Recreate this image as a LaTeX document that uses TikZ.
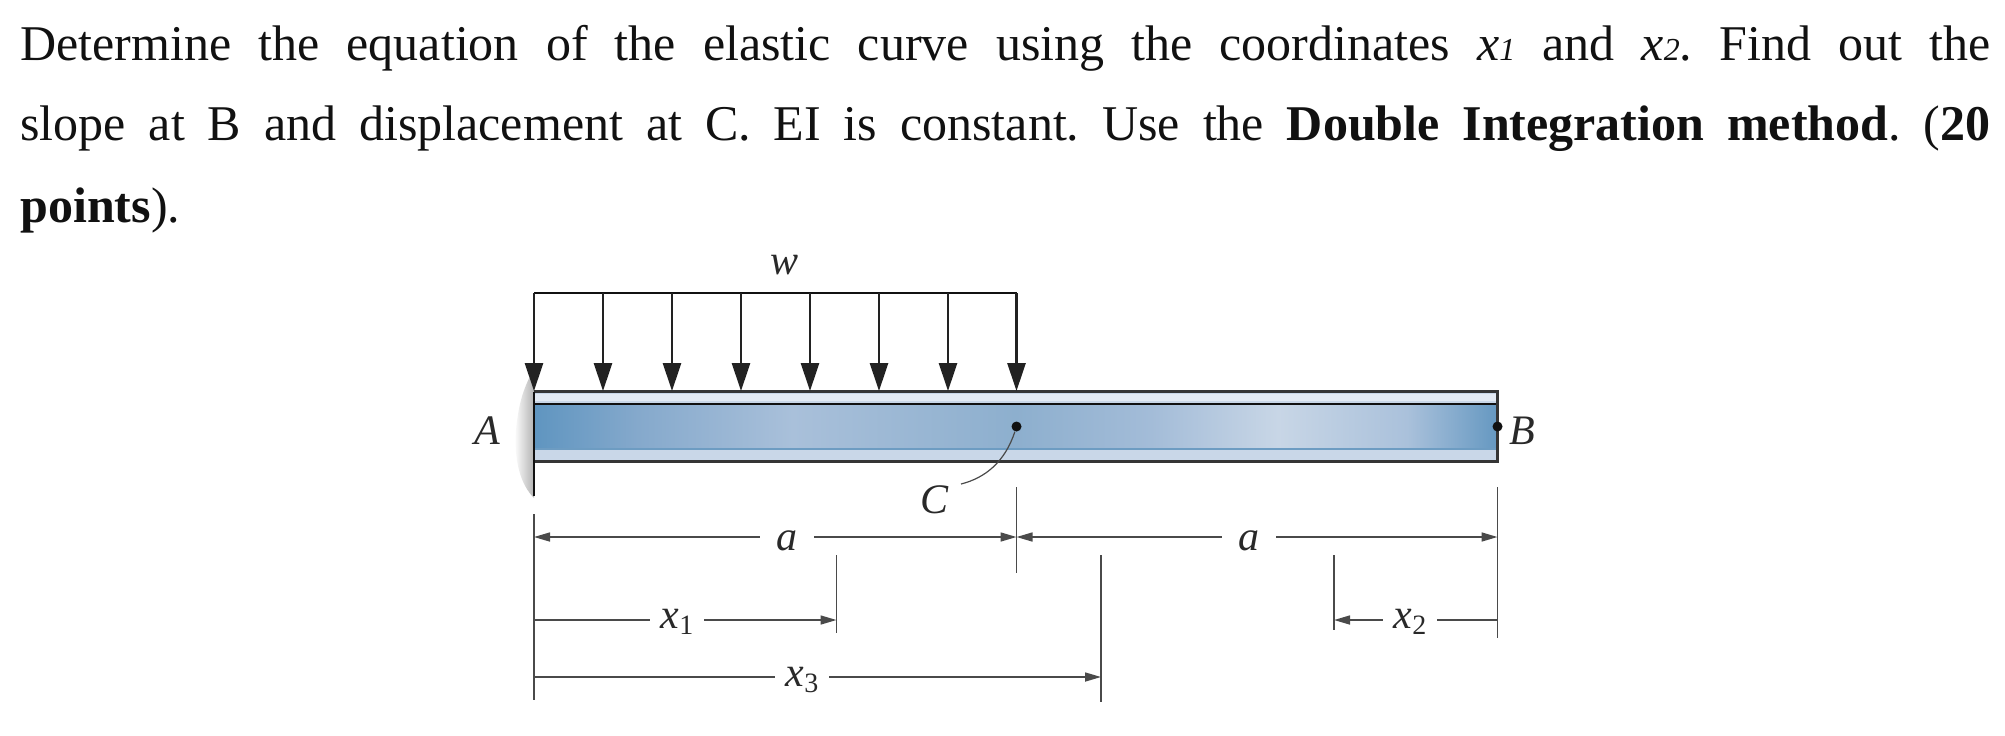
\documentclass[tikz,border=0pt]{standalone}
\usepackage{fontspec}
\setmainfont{Liberation Serif}
\usetikzlibrary{arrows.meta}
\definecolor{ink}{HTML}{111111}
\definecolor{loadink}{HTML}{222222}
\definecolor{dimgray}{HTML}{4A4A4A}
\definecolor{flange}{HTML}{C9D7E8}
\definecolor{flangehi}{HTML}{E3EAF3}
\definecolor{webline}{HTML}{6D9CC2}
\definecolor{wa}{HTML}{5F95C0}
\definecolor{wb}{HTML}{85A9CC}
\definecolor{wc}{HTML}{A9C0DA}
\definecolor{wd}{HTML}{8DAFCE}
\definecolor{we}{HTML}{A3BCD8}
\definecolor{wf}{HTML}{C8D6E6}
\definecolor{wg}{HTML}{AAC1DB}
\definecolor{wh}{HTML}{6598C1}
\pgfdeclarehorizontalshading{beamweb}{100bp}{
 color(0bp)=(wa);color(25bp)=(wa);color(30.4bp)=(wb);
 color(38.4bp)=(wc);color(50bp)=(wd);color(57bp)=(we);
 color(63.6bp)=(wf);color(70.3bp)=(wg);color(75bp)=(wh);color(100bp)=(wh)}
\frenchspacing
\newcommand{\headline}[1]{\hbox to 985pt{\fontsize{25}{30}\selectfont\spaceskip=0.25em plus 1fil minus 0.05em\relax #1}}
\newcommand{\subvar}[2]{\textit{#1}\raisebox{-0.28ex}{\fontsize{14}{14}\selectfont #2}}
\tikzset{
 headtext/.style={anchor=base west,inner sep=0pt,text=ink},
 lab/.style={inner sep=0pt,font=\fontsize{21}{24}\selectfont\itshape,text=ink!90},
 gaplab/.style={inner sep=0pt,minimum height=10pt,font=\fontsize{21}{24}\selectfont,text=ink!90},
 load/.style={draw=loadink,line width=1.4pt,-{Triangle[length=14pt,width=9pt]}},
 extline/.style={draw=dimgray,line width=0.6pt},
 dimline/.style={draw=dimgray,line width=0.8pt},
 dimhead/.style={-{Triangle[length=8pt,width=4.5pt]}},
 beamedge/.style={draw=ink!85,line width=1.1pt},
 dot/.style={circle,fill=ink,inner sep=0pt,minimum size=5pt},
}
\begin{document}
\begin{tikzpicture}[x=0.5pt,y=-0.5pt]
\useasboundingbox (0,0) rectangle (2005,735);
\fill[white] (0,0) rectangle (2005,735);
% statement
\node[headtext] (l1) at (20,60) {\headline{Determine the equation of the elastic curve using the coordinates \textit{x}{\fontsize{16}{16}\selectfont\textit{1}} and \textit{x}{\fontsize{16}{16}\selectfont\textit{2}}. Find out the}};
\node[headtext] (l2) at (20,140) {\headline{slope at B and displacement at C. EI is constant. Use the \textbf{Double Integration method}. (\textbf{20}}};
\node[headtext] (l3) at (20,222) {\fontsize{25}{30}\selectfont\textbf{points}).};
% wall shadow
\shade[left color=white,right color=black!30]
  (534,368) .. controls (524,388) and (519,400) .. (516,430) .. controls (514,460) and (520,484) .. (534,498) -- cycle;
% beam
\fill[flange] (534,391.5) rectangle (1497.5,461.5);
\fill[flangehi] (534,394) rectangle (1497.5,401);
\shade[shading=beamweb] (534,404) rectangle (1497.5,449);
\draw[webline,line width=0.9pt] (534,449) -- (1497.5,449);
\draw[ink,line width=0.6pt] (534,404) -- (1497.5,404);
\draw[beamedge] (534,391.5) -- (1497.5,391.5) -- (1497.5,461.5) -- (534,461.5);
% wall line
\coordinate (wt) at (534,391.5);
\coordinate (wbot) at (534,496);
\draw[draw=ink,line width=0.9pt] (wt) -- (wbot);
% distributed load
\coordinate (lt0) at (534,293);
\coordinate (lt7) at (1016.5,293);
\draw[draw=ink,line width=0.9pt] (lt0) -- (lt7);
\foreach \i/\x in {0/534,1/603,2/672,3/741,4/810,5/879,6/948,7/1016.5}{
  \coordinate (lt\i) at (\x,293);
  \coordinate (lb\i) at (\x,391);
  \draw[load] (lt\i) -- (lb\i);
}
% labels
\node[lab] (w) at (784,265) {w};
\node[lab] (A) at (487,431) {A};
\node[lab] (B) at (1522,431) {B};
\node[lab] (C) at (934,500) {C};
\node[dot] (cdot) at (1016.5,426.5) {};
\node[dot] (bdot) at (1497.5,426.5) {};
\coordinate (cend) at (961,484);
\draw[draw=dimgray,line width=0.6pt] (cdot) .. controls (1005,462) and (985,478) .. (cend);
% extension lines
\coordinate (e0t) at (534,514); \coordinate (e0b) at (534,700);
\coordinate (e1t) at (1016.5,487); \coordinate (e1b) at (1016.5,573);
\coordinate (e2t) at (1497.5,487); \coordinate (e2b) at (1497.5,638);
\coordinate (e3t) at (836.5,555); \coordinate (e3b) at (836.5,633);
\coordinate (e4t) at (1101,555); \coordinate (e4b) at (1101,702);
\coordinate (e5t) at (1334,555); \coordinate (e5b) at (1334,630);
\foreach \i in {0,...,5}{\draw[extline] (e\i t) -- (e\i b);}
% dimensions
\coordinate (d0) at (534,537); \coordinate (d1) at (1016.5,537); \coordinate (d2) at (1497.5,537);
\coordinate (a1c) at (787,537); \coordinate (a2c) at (1249,537);
\node[gaplab,minimum width=27pt] (a1) at (787,541) {\textit{a}};
\node[gaplab,minimum width=27pt] (a2) at (1249,541) {\textit{a}};
\draw[dimline,dimhead] (a1.west |- a1c) -- (d0);
\draw[dimline,dimhead] (a1.east |- a1c) -- (d1);
\draw[dimline,dimhead] (a2.west |- a2c) -- (d1);
\draw[dimline,dimhead] (a2.east |- a2c) -- (d2);
\coordinate (x1l) at (534,620); \coordinate (x1r) at (836.5,620);
\node[gaplab,minimum width=27pt] (x1) at (677,622) {\subvar{x}{1}};
\draw[dimline] (x1.west |- x1l) -- (x1l);
\draw[dimline,dimhead] (x1.east |- x1r) -- (x1r);
\coordinate (x2l) at (1334,620); \coordinate (x2r) at (1497.5,620);
\node[gaplab,minimum width=27pt] (x2) at (1410,622) {\subvar{x}{2}};
\draw[dimline,dimhead] (x2.west |- x2l) -- (x2l);
\draw[dimline] (x2.east |- x2r) -- (x2r);
\coordinate (x3l) at (534,677); \coordinate (x3r) at (1101,677);
\node[gaplab,minimum width=27pt] (x3) at (802,680) {\subvar{x}{3}};
\draw[dimline] (x3.west |- x3l) -- (x3l);
\draw[dimline,dimhead] (x3.east |- x3r) -- (x3r);
\end{tikzpicture}
\end{document}
